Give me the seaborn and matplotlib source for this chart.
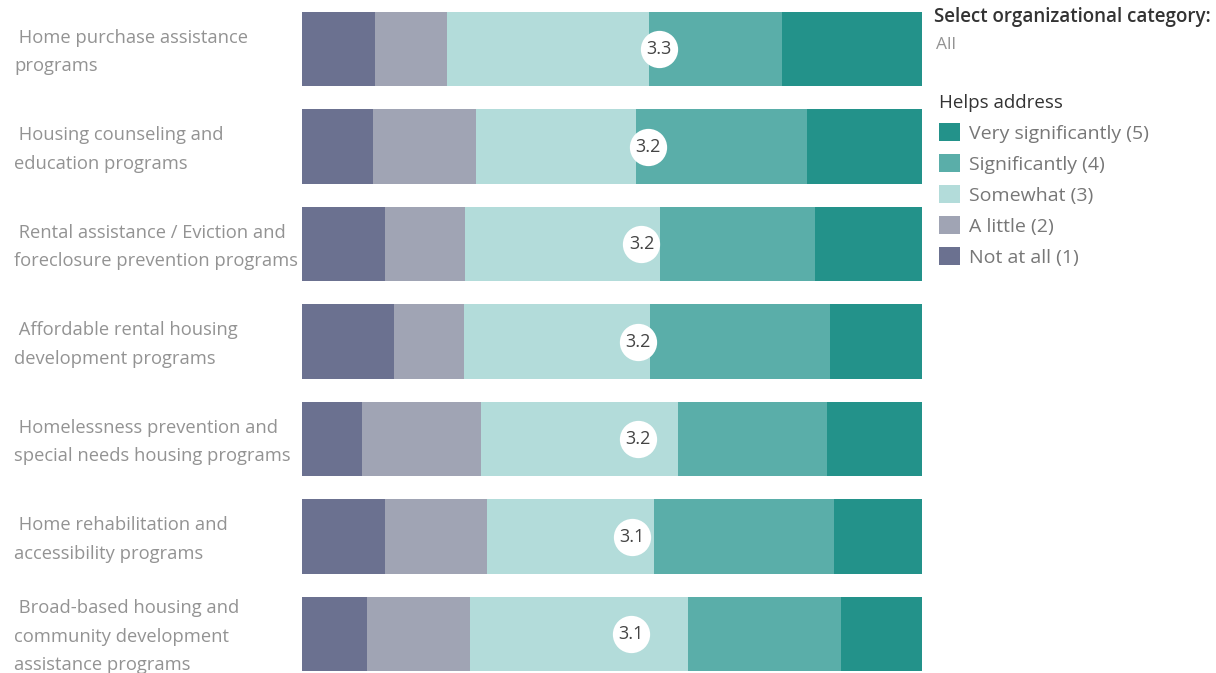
import seaborn as sns
import pandas as pd
import matplotlib.pyplot as plt
from matplotlib.patches import Patch

programs = [
    " Home purchase assistance\nprograms",
    " Housing counseling and\neducation programs",
    " Rental assistance / Eviction and\nforeclosure prevention programs",
    " Affordable rental housing\ndevelopment programs",
    " Homelessness prevention and\nspecial needs housing programs",
    " Home rehabilitation and\naccessibility programs",
    " Broad-based housing and\ncommunity development\nassistance programs",
]
levels = ["Not at all (1)", "A little (2)", "Somewhat (3)",
          "Significantly (4)", "Very significantly (5)"]

# percent of responses per level, one list per level (rows follow `programs`)
not_at_all = [11.8, 11.5, 13.4, 14.9, 9.7, 13.4, 10.5]
a_little = [11.6, 16.6, 12.9, 11.3, 19.1, 16.5, 16.6]
somewhat = [32.5, 25.8, 31.5, 29.9, 31.8, 26.8, 35.2]
significantly = [21.5, 27.5, 25.0, 29.1, 24.1, 29.1, 24.6]
very_significantly = [22.6, 18.6, 17.2, 14.8, 15.3, 14.2, 13.1]
mean_score = [3.30, 3.23, 3.19, 3.17, 3.17, 3.13, 3.12]

colors = ["#6b7190", "#a0a4b4", "#b3dcda", "#5aaea9", "#23928a"]

sns.set_style("white")
plt.rcParams["font.family"] = ["Open Sans", "DejaVu Sans"]

df = pd.DataFrame({
    "program": programs,
    levels[0]: not_at_all,
    levels[1]: a_little,
    levels[2]: somewhat,
    levels[3]: significantly,
    levels[4]: very_significantly,
})
cum = df[levels].cumsum(axis=1)
cum = cum.div(cum[levels[-1]], axis=0) * 100
cum["program"] = programs

fig = plt.figure(figsize=(12.16, 6.73), dpi=100)
ax = fig.add_axes([302 / 1216, 0, 620 / 1216, 1])

# draw cumulative bars from the top level down so each overlays the next
for lvl, col in reversed(list(zip(levels, colors))):
    sns.barplot(data=cum, x=lvl, y="program", color=col, width=0.76,
                saturation=1, linewidth=0, ax=ax)

pos = [(m - 1) / 4 * 100 for m in mean_score]
ax.scatter(pos, range(len(programs)), s=720, color="white", zorder=5,
           linewidth=0)
for i, (p, m) in enumerate(zip(pos, mean_score)):
    ax.text(p, i, f"{m:.1f}", ha="center", va="center", fontsize=13,
            color="#444444", zorder=6)

ax.set_xlim(0, 100)
ax.set_ylim(6.40, -0.503)
ax.set_xlabel("")
ax.set_ylabel("")
ax.set_xticks([])
ax.set_yticks([])
for s in ax.spines.values():
    s.set_visible(False)

# row labels, left aligned at the figure edge
for i, lab in enumerate(programs):
    y = ax.transData.transform((0, i + 0.03))[1] / fig.bbox.height
    fig.text(14 / 1216, y, lab, ha="left", va="center", fontsize=13.2,
             color="#939393", linespacing=1.75)

fig.text(934 / 1216, 1 - 17 / 673, "Select organizational category:",
         fontsize=13.5, color="#333333", va="center", ha="left",
         fontweight="semibold")
fig.text(936 / 1216, 1 - 45 / 673, "All", fontsize=12.5, color="#939393",
         va="center", ha="left")

handles = [Patch(facecolor=c, edgecolor="none") for c in colors]
leg = fig.legend(handles[::-1], levels[::-1], loc="upper left",
                 bbox_to_anchor=(925 / 1216, 1 - 80 / 673), frameon=False,
                 title="Helps address", alignment="left", fontsize=14,
                 handlelength=1.1, handleheight=1.0, handletextpad=0.45,
                 labelspacing=0.6, borderpad=0.2)
leg.get_title().set_fontsize(13.5)
leg.get_title().set_color("#333333")
leg._legend_handle_box.sep = 0
for t in leg.get_texts():
    t.set_color("#777777")

fig.savefig("out.png", dpi=100)
